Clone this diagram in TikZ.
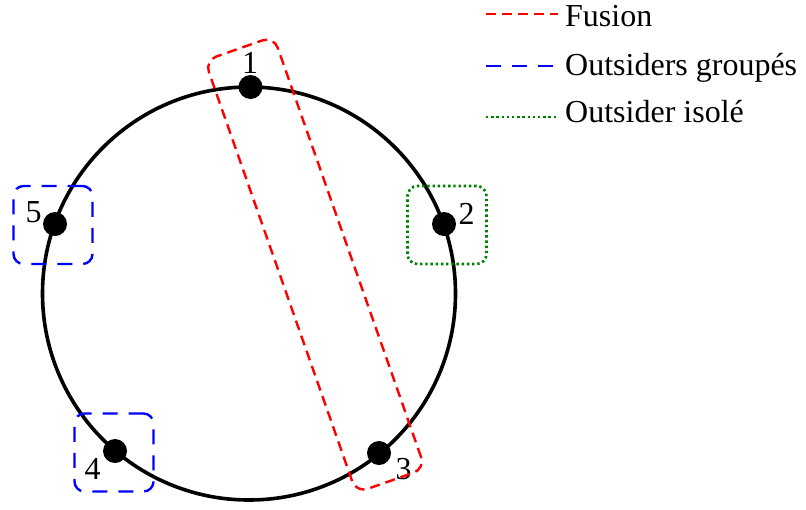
\documentclass[tikz,border=0pt]{standalone}
\usepackage{fontspec}
\setmainfont{Liberation Serif}
\usetikzlibrary{calc}
\definecolor{fusred}{RGB}{255,0,0}
\definecolor{grpblue}{RGB}{0,0,255}
\definecolor{isogreen}{RGB}{0,128,0}
\tikzset{
  fusionline/.style={draw=fusred, line width=2.4, dash pattern=on 10 off 6},
  groupline/.style={draw=grpblue, line width=2.4, dash pattern=on 15 off 11},
  isoline/.style={draw=isogreen, line width=2.6, dash pattern=on 2.4 off 2.8},
  pt/.style={circle, fill=black, inner sep=0, minimum size=24},
  lbl/.style={inner sep=0, font=\fontsize{32}{38}\selectfont},
  boxnode/.style={rectangle, rounded corners=10, minimum width=79, minimum height=78, inner sep=0},
  legtext/.style={anchor=base west, inner sep=0, font=\fontsize{32}{38}\selectfont}
}
\begin{document}
\begin{tikzpicture}[x=1pt,y=-1pt]
\useasboundingbox (0,0) rectangle (806,509);
% ring
\coordinate (c) at (249,293.5);
\draw[line width=3.6] (c) circle[radius=206.5];
% points
\node[pt] (p1) at (250.5,87) {};
\node[pt] (p2) at (444,224) {};
\node[pt] (p3) at (379,453) {};
\node[pt] (p4) at (115,451) {};
\node[pt] (p5) at (55,224) {};
% labels
\node[lbl] (l1) at (250,62.5) {1};
\node[lbl] (l2) at (466.5,214) {2};
\node[lbl] (l3) at (403.5,469) {3};
\node[lbl] (l4) at (92.5,468.5) {4};
\node[lbl] (l5) at (33.5,212.5) {5};
% fusion group
\node[fusionline, rectangle, rounded corners=12, rotate=-70.7, minimum width=458, minimum height=73, inner sep=0] (fus) at (315,264.6) {};
% outsider boxes
\node[boxnode, groupline] (b5) at (53,225) {};
\node[boxnode, groupline] (b4) at (114,452.5) {};
\node[boxnode, isoline] (b2) at (447,225) {};
% legend
\coordinate (r1) at (486,14);
\coordinate (r2) at (558,14);
\coordinate (u1) at (486,66);
\coordinate (u2) at (558,66);
\coordinate (g1) at (486,117);
\coordinate (g2) at (558,117);
\draw[fusionline] (r1) -- (r2);
\draw[groupline] (u1) -- (u2);
\draw[isoline] (g1) -- (g2);
\node[legtext] (t1) at (565,26) {Fusion};
\node[legtext] (t2) at (565,75) {Outsiders groupés};
\node[legtext] (t3) at (565,122) {Outsider isolé};
\end{tikzpicture}
\end{document}
